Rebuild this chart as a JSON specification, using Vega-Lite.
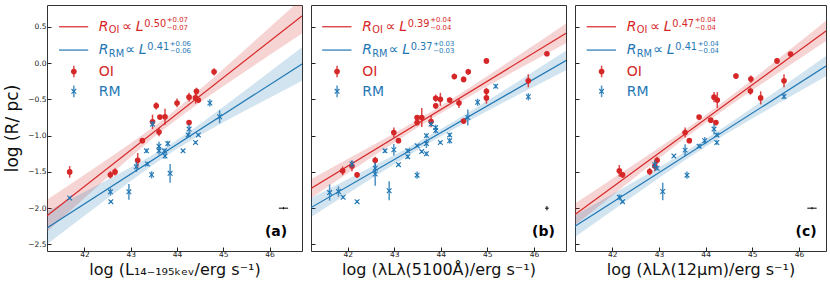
{
"$schema": "https://vega.github.io/schema/vega-lite/v6.json",
"background": "white",
"padding": {"left": 3, "top": 4, "right": 0, "bottom": 0},
"spacing": 7,
"config": {"font": "DejaVu Sans", "view": {"stroke": "#333", "strokeWidth": 1},
  "axis": {"domain": false, "grid": false, "tickColor": "#222", "labelColor": "#222", "labelFont": "DejaVu Sans", "titleFont": "DejaVu Sans", "titleFontWeight": "normal", "titleColor": "#111", "labelFontSize": 7.5, "tickSize": -4}},
"datasets": {
 "pts": [
  {"panel":"a","series":"OI","x":41.68,"y":-1.50,"err":0.08},{"panel":"a","series":"OI","x":42.56,"y":-1.54,"err":0.05},{"panel":"a","series":"OI","x":42.66,"y":-1.50,"err":0.05},{"panel":"a","series":"OI","x":43.15,"y":-1.34,"err":0.10},{"panel":"a","series":"OI","x":43.25,"y":-1.07,"err":0.03},{"panel":"a","series":"OI","x":43.47,"y":-0.81,"err":0.10},{"panel":"a","series":"OI","x":43.55,"y":-0.59,"err":0.05},{"panel":"a","series":"OI","x":43.61,"y":-0.95,"err":0.06},{"panel":"a","series":"OI","x":43.63,"y":-0.745,"err":0.03},{"panel":"a","series":"OI","x":43.74,"y":-0.74,"err":0.11},{"panel":"a","series":"OI","x":44.00,"y":-0.55,"err":0.06},{"panel":"a","series":"OI","x":44.26,"y":-0.47,"err":0.06},{"panel":"a","series":"OI","x":44.26,"y":-0.82,"err":0.03},{"panel":"a","series":"OI","x":44.42,"y":-0.39,"err":0.05},{"panel":"a","series":"OI","x":44.40,"y":-0.48,"err":0.08},{"panel":"a","series":"OI","x":44.46,"y":-0.51,"err":0.03},{"panel":"a","series":"OI","x":44.80,"y":-0.12,"err":0.05},
  {"panel":"a","series":"RM","x":41.68,"y":-1.86,"err":0.02},{"panel":"a","series":"RM","x":42.56,"y":-1.775,"err":0.05},{"panel":"a","series":"RM","x":42.57,"y":-1.91,"err":0.02},{"panel":"a","series":"RM","x":42.96,"y":-1.775,"err":0.11},{"panel":"a","series":"RM","x":43.12,"y":-1.43,"err":0.07},{"panel":"a","series":"RM","x":43.34,"y":-1.21,"err":0.03},{"panel":"a","series":"RM","x":43.36,"y":-1.39,"err":0.03},{"panel":"a","series":"RM","x":43.45,"y":-1.54,"err":0.05},{"panel":"a","series":"RM","x":43.47,"y":-0.84,"err":0.04},{"panel":"a","series":"RM","x":43.61,"y":-1.145,"err":0.06},{"panel":"a","series":"RM","x":43.61,"y":-1.21,"err":0.05},{"panel":"a","series":"RM","x":43.73,"y":-1.21,"err":0.03},{"panel":"a","series":"RM","x":43.74,"y":-1.28,"err":0.04},{"panel":"a","series":"RM","x":43.80,"y":-1.11,"err":0.04},{"panel":"a","series":"RM","x":43.85,"y":-1.52,"err":0.13},{"panel":"a","series":"RM","x":44.13,"y":-1.21,"err":0.02},{"panel":"a","series":"RM","x":44.26,"y":-0.91,"err":0.07},{"panel":"a","series":"RM","x":44.24,"y":-0.99,"err":0.03},{"panel":"a","series":"RM","x":44.40,"y":-1.095,"err":0.02},{"panel":"a","series":"RM","x":44.46,"y":-0.99,"err":0.02},{"panel":"a","series":"RM","x":44.71,"y":-0.55,"err":0.05},{"panel":"a","series":"RM","x":44.92,"y":-0.74,"err":0.09},
  {"panel":"b","series":"OI","x":41.89,"y":-1.485,"err":0.06},{"panel":"b","series":"OI","x":42.09,"y":-1.42,"err":0.07},{"panel":"b","series":"OI","x":42.20,"y":-1.54,"err":0.04},{"panel":"b","series":"OI","x":42.59,"y":-1.34,"err":0.05},{"panel":"b","series":"OI","x":42.99,"y":-0.957,"err":0.07},{"panel":"b","series":"OI","x":43.09,"y":-1.07,"err":0.03},{"panel":"b","series":"OI","x":43.49,"y":-0.82,"err":0.04},{"panel":"b","series":"OI","x":43.49,"y":-0.75,"err":0.03},{"panel":"b","series":"OI","x":43.59,"y":-0.75,"err":0.13},{"panel":"b","series":"OI","x":43.79,"y":-0.805,"err":0.08},{"panel":"b","series":"OI","x":43.89,"y":-0.485,"err":0.05},{"panel":"b","series":"OI","x":43.89,"y":-0.59,"err":0.04},{"panel":"b","series":"OI","x":43.99,"y":-0.50,"err":0.09},{"panel":"b","series":"OI","x":44.19,"y":-0.51,"err":0.03},{"panel":"b","series":"OI","x":44.29,"y":-0.185,"err":0.04},{"panel":"b","series":"OI","x":44.39,"y":-0.55,"err":0.07},{"panel":"b","series":"OI","x":44.49,"y":-0.225,"err":0.04},{"panel":"b","series":"OI","x":44.49,"y":-0.80,"err":0.03},{"panel":"b","series":"OI","x":44.59,"y":-0.12,"err":0.04},{"panel":"b","series":"OI","x":44.98,"y":0.03,"err":0.04},{"panel":"b","series":"OI","x":44.98,"y":-0.39,"err":0.05},{"panel":"b","series":"OI","x":44.98,"y":-0.48,"err":0.08},{"panel":"b","series":"OI","x":45.88,"y":-0.245,"err":0.09},{"panel":"b","series":"OI","x":46.28,"y":0.128,"err":0.03},
  {"panel":"b","series":"RM","x":41.61,"y":-1.785,"err":0.11},{"panel":"b","series":"RM","x":41.80,"y":-1.77,"err":0.07},{"panel":"b","series":"RM","x":41.90,"y":-1.85,"err":0.02},{"panel":"b","series":"RM","x":42.09,"y":-1.39,"err":0.05},{"panel":"b","series":"RM","x":42.20,"y":-1.91,"err":0.02},{"panel":"b","series":"RM","x":42.59,"y":-1.45,"err":0.06},{"panel":"b","series":"RM","x":42.59,"y":-1.53,"err":0.16},{"panel":"b","series":"RM","x":42.80,"y":-1.21,"err":0.03},{"panel":"b","series":"RM","x":42.89,"y":-1.76,"err":0.13},{"panel":"b","series":"RM","x":42.99,"y":-1.195,"err":0.08},{"panel":"b","series":"RM","x":43.09,"y":-1.40,"err":0.02},{"panel":"b","series":"RM","x":43.29,"y":-1.21,"err":0.03},{"panel":"b","series":"RM","x":43.29,"y":-1.29,"err":0.03},{"panel":"b","series":"RM","x":43.49,"y":-1.14,"err":0.02},{"panel":"b","series":"RM","x":43.49,"y":-1.545,"err":0.05},{"panel":"b","series":"RM","x":43.59,"y":-1.22,"err":0.02},{"panel":"b","series":"RM","x":43.69,"y":-1.0,"err":0.03},{"panel":"b","series":"RM","x":43.69,"y":-1.11,"err":0.06},{"panel":"b","series":"RM","x":43.69,"y":-1.25,"err":0.03},{"panel":"b","series":"RM","x":43.79,"y":-0.84,"err":0.03},{"panel":"b","series":"RM","x":43.89,"y":-0.89,"err":0.04},{"panel":"b","series":"RM","x":43.89,"y":-0.93,"err":0.04},{"panel":"b","series":"RM","x":43.99,"y":-1.095,"err":0.02},{"panel":"b","series":"RM","x":44.19,"y":-0.99,"err":0.03},{"panel":"b","series":"RM","x":44.19,"y":-1.07,"err":0.04},{"panel":"b","series":"RM","x":44.58,"y":-0.75,"err":0.11},{"panel":"b","series":"RM","x":44.79,"y":-0.54,"err":0.05},{"panel":"b","series":"RM","x":45.18,"y":-0.32,"err":0.03},{"panel":"b","series":"RM","x":45.88,"y":-0.465,"err":0.05},
  {"panel":"c","series":"OI","x":42.15,"y":-1.485,"err":0.08},{"panel":"c","series":"OI","x":42.22,"y":-1.54,"err":0.04},{"panel":"c","series":"OI","x":42.80,"y":-1.495,"err":0.05},{"panel":"c","series":"OI","x":42.91,"y":-1.42,"err":0.07},{"panel":"c","series":"OI","x":42.96,"y":-1.34,"err":0.05},{"panel":"c","series":"OI","x":43.56,"y":-0.957,"err":0.07},{"panel":"c","series":"OI","x":43.65,"y":-1.07,"err":0.03},{"panel":"c","series":"OI","x":43.86,"y":-0.745,"err":0.03},{"panel":"c","series":"OI","x":44.11,"y":-0.787,"err":0.03},{"panel":"c","series":"OI","x":44.18,"y":-0.47,"err":0.07},{"panel":"c","series":"OI","x":44.25,"y":-0.51,"err":0.11},{"panel":"c","series":"OI","x":44.22,"y":-0.82,"err":0.03},{"panel":"c","series":"OI","x":44.65,"y":-0.18,"err":0.04},{"panel":"c","series":"OI","x":44.97,"y":-0.22,"err":0.05},{"panel":"c","series":"OI","x":44.96,"y":-0.386,"err":0.05},{"panel":"c","series":"OI","x":45.18,"y":-0.48,"err":0.09},{"panel":"c","series":"OI","x":45.53,"y":0.03,"err":0.04},{"panel":"c","series":"OI","x":45.68,"y":-0.245,"err":0.09},{"panel":"c","series":"OI","x":45.82,"y":0.124,"err":0.03},
  {"panel":"c","series":"RM","x":42.15,"y":-1.85,"err":0.04},{"panel":"c","series":"RM","x":42.22,"y":-1.91,"err":0.02},{"panel":"c","series":"RM","x":42.91,"y":-1.40,"err":0.06},{"panel":"c","series":"RM","x":42.96,"y":-1.45,"err":0.03},{"panel":"c","series":"RM","x":43.08,"y":-1.77,"err":0.12},{"panel":"c","series":"RM","x":43.32,"y":-1.28,"err":0.02},{"panel":"c","series":"RM","x":43.56,"y":-1.20,"err":0.08},{"panel":"c","series":"RM","x":43.60,"y":-1.545,"err":0.05},{"panel":"c","series":"RM","x":43.86,"y":-1.145,"err":0.03},{"panel":"c","series":"RM","x":43.98,"y":-1.07,"err":0.05},{"panel":"c","series":"RM","x":44.18,"y":-0.91,"err":0.07},{"panel":"c","series":"RM","x":44.24,"y":-0.99,"err":0.03},{"panel":"c","series":"RM","x":44.24,"y":-1.095,"err":0.03},{"panel":"c","series":"RM","x":45.68,"y":-0.46,"err":0.04}
 ],
 "fit": [
  {"panel":"a","series":"OI","x":41.19,"y":-2.105},{"panel":"a","series":"OI","x":46.7,"y":0.65},
  {"panel":"a","series":"RM","x":41.19,"y":-2.272},{"panel":"a","series":"RM","x":46.7,"y":-0.013},
  {"panel":"b","series":"OI","x":41.21,"y":-1.728},{"panel":"b","series":"OI","x":46.69,"y":0.409},
  {"panel":"b","series":"RM","x":41.21,"y":-1.992},{"panel":"b","series":"RM","x":46.69,"y":0.035},
  {"panel":"c","series":"OI","x":41.2,"y":-2.086},{"panel":"c","series":"OI","x":46.58,"y":0.443},
  {"panel":"c","series":"RM","x":41.2,"y":-2.248},{"panel":"c","series":"RM","x":46.58,"y":-0.042}
 ],
 "band": [
  {"panel":"a","series":"OI","x":41.19,"y":-2.325,"y2":-1.885},{"panel":"a","series":"OI","x":41.8,"y":-1.975,"y2":-1.625},{"panel":"a","series":"OI","x":42.4,"y":-1.632,"y2":-1.368},{"panel":"a","series":"OI","x":43.0,"y":-1.295,"y2":-1.105},{"panel":"a","series":"OI","x":43.5,"y":-1.024,"y2":-0.876},{"panel":"a","series":"OI","x":43.8,"y":-0.87,"y2":-0.73},{"panel":"a","series":"OI","x":44.2,"y":-0.677,"y2":-0.523},{"panel":"a","series":"OI","x":44.8,"y":-0.406,"y2":-0.194},{"panel":"a","series":"OI","x":45.4,"y":-0.146,"y2":0.146},{"panel":"a","series":"OI","x":46.0,"y":0.111,"y2":0.489},{"panel":"a","series":"OI","x":46.7,"y":0.408,"y2":0.892},
  {"panel":"a","series":"RM","x":41.19,"y":-2.497,"y2":-2.047},{"panel":"a","series":"RM","x":41.8,"y":-2.2,"y2":-1.844},{"panel":"a","series":"RM","x":42.4,"y":-1.91,"y2":-1.642},{"panel":"a","series":"RM","x":43.0,"y":-1.624,"y2":-1.436},{"panel":"a","series":"RM","x":43.5,"y":-1.393,"y2":-1.257},{"panel":"a","series":"RM","x":43.9,"y":-1.221,"y2":-1.101},{"panel":"a","series":"RM","x":44.4,"y":-1.028,"y2":-0.884},{"panel":"a","series":"RM","x":45.0,"y":-0.817,"y2":-0.603},{"panel":"a","series":"RM","x":45.6,"y":-0.613,"y2":-0.315},{"panel":"a","series":"RM","x":46.2,"y":-0.412,"y2":-0.024},{"panel":"a","series":"RM","x":46.7,"y":-0.245,"y2":0.219},
  {"panel":"b","series":"OI","x":41.21,"y":-1.862,"y2":-1.6},{"panel":"b","series":"OI","x":41.8,"y":-1.605,"y2":-1.391},{"panel":"b","series":"OI","x":42.4,"y":-1.348,"y2":-1.18},{"panel":"b","series":"OI","x":43.0,"y":-1.094,"y2":-0.966},{"panel":"b","series":"OI","x":43.5,"y":-0.888,"y2":-0.782},{"panel":"b","series":"OI","x":43.9,"y":-0.729,"y2":-0.629},{"panel":"b","series":"OI","x":44.4,"y":-0.539,"y2":-0.429},{"panel":"b","series":"OI","x":45.0,"y":-0.32,"y2":-0.18},{"panel":"b","series":"OI","x":45.6,"y":-0.107,"y2":0.075},{"panel":"b","series":"OI","x":46.2,"y":0.103,"y2":0.333},{"panel":"b","series":"OI","x":46.69,"y":0.274,"y2":0.544},
  {"panel":"b","series":"RM","x":41.21,"y":-2.123,"y2":-1.861},{"panel":"b","series":"RM","x":41.8,"y":-1.881,"y2":-1.667},{"panel":"b","series":"RM","x":42.4,"y":-1.636,"y2":-1.468},{"panel":"b","series":"RM","x":43.0,"y":-1.394,"y2":-1.266},{"panel":"b","series":"RM","x":43.5,"y":-1.198,"y2":-1.092},{"panel":"b","series":"RM","x":43.9,"y":-1.047,"y2":-0.947},{"panel":"b","series":"RM","x":44.4,"y":-0.867,"y2":-0.757},{"panel":"b","series":"RM","x":45.0,"y":-0.66,"y2":-0.52},{"panel":"b","series":"RM","x":45.6,"y":-0.459,"y2":-0.277},{"panel":"b","series":"RM","x":46.2,"y":-0.261,"y2":-0.031},{"panel":"b","series":"RM","x":46.69,"y":-0.1,"y2":0.17},
  {"panel":"c","series":"OI","x":41.2,"y":-2.236,"y2":-1.936},{"panel":"c","series":"OI","x":41.8,"y":-1.927,"y2":-1.681},{"panel":"c","series":"OI","x":42.4,"y":-1.619,"y2":-1.425},{"panel":"c","series":"OI","x":43.0,"y":-1.314,"y2":-1.166},{"panel":"c","series":"OI","x":43.5,"y":-1.065,"y2":-0.945},{"panel":"c","series":"OI","x":44.0,"y":-0.825,"y2":-0.715},{"panel":"c","series":"OI","x":44.5,"y":-0.595,"y2":-0.475},{"panel":"c","series":"OI","x":45.0,"y":-0.374,"y2":-0.226},{"panel":"c","series":"OI","x":45.6,"y":-0.115,"y2":0.079},{"panel":"c","series":"OI","x":46.1,"y":0.098,"y2":0.336},{"panel":"c","series":"OI","x":46.58,"y":0.303,"y2":0.583},
  {"panel":"c","series":"RM","x":41.2,"y":-2.398,"y2":-2.098},{"panel":"c","series":"RM","x":41.8,"y":-2.125,"y2":-1.879},{"panel":"c","series":"RM","x":42.4,"y":-1.853,"y2":-1.659},{"panel":"c","series":"RM","x":43.0,"y":-1.584,"y2":-1.436},{"panel":"c","series":"RM","x":43.5,"y":-1.365,"y2":-1.245},{"panel":"c","series":"RM","x":44.0,"y":-1.155,"y2":-1.045},{"panel":"c","series":"RM","x":44.5,"y":-0.955,"y2":-0.835},{"panel":"c","series":"RM","x":45.0,"y":-0.764,"y2":-0.616},{"panel":"c","series":"RM","x":45.6,"y":-0.541,"y2":-0.347},{"panel":"c","series":"RM","x":46.1,"y":-0.358,"y2":-0.12},{"panel":"c","series":"RM","x":46.58,"y":-0.182,"y2":0.098}
 ],
 "sys": [
  {"panel":"a","x":46.30,"y":-2.0,"xe":0.1,"ye":0.015},
  {"panel":"b","x":46.28,"y":-2.0,"xe":0.04,"ye":0.03},
  {"panel":"c","x":46.28,"y":-2.0,"xe":0.1,"ye":0.015}
 ],
 "legend": [
  {"panel":"a","e1":"0.50","p1":"+0.07","m1":"−0.07","e2":"0.41","p2":"+0.06","m2":"−0.06","tag":"(a)"},
  {"panel":"b","e1":"0.39","p1":"+0.04","m1":"−0.04","e2":"0.37","p2":"+0.03","m2":"−0.03","tag":"(b)"},
  {"panel":"c","e1":"0.47","p1":"+0.04","m1":"−0.04","e2":"0.41","p2":"+0.04","m2":"−0.04","tag":"(c)"}
 ]
},
"hconcat": [
 {
  "width": 255, "height": 246,
  "layer": [
   {
    "encoding": {
     "x": {"field": "x", "type": "quantitative", "scale": {"domain": [41.19, 46.7], "nice": false, "zero": false}, "axis": {"values": [42,43,44,45,46], "format": "d", "title": "log  (L₁₄₋₁₉₅ₖₑᵥ/erg s⁻¹)", "titleFontSize": 16, "labelPadding": 3, "titlePadding": 4}},
     "y": {"field": "y", "type": "quantitative", "scale": {"domain": [-2.59, 0.8], "nice": false, "zero": false}, "axis": {"values": [-2.5,-2,-1.5,-1,-0.5,0,0.5], "format": ".1f", "title": "log (R/ pc)", "titleFontSize": 17, "labelPadding": 5, "titlePadding": 6}}
    },
    "layer": [
     {"data": {"name": "band"}, "transform": [{"filter": "datum.panel === 'a' && datum.series === 'OI'"}], "mark": {"type": "area", "color": "#d62728", "opacity": 0.2, "clip": true}, "encoding": {"y2": {"field": "y2"}}},
     {"data": {"name": "band"}, "transform": [{"filter": "datum.panel === 'a' && datum.series === 'RM'"}], "mark": {"type": "area", "color": "#1f77b4", "opacity": 0.2, "clip": true}, "encoding": {"y2": {"field": "y2"}}},
     {"data": {"name": "fit"}, "transform": [{"filter": "datum.panel === 'a' && datum.series === 'OI'"}], "mark": {"type": "line", "color": "#d62728", "strokeWidth": 1.2, "clip": true}},
     {"data": {"name": "fit"}, "transform": [{"filter": "datum.panel === 'a' && datum.series === 'RM'"}], "mark": {"type": "line", "color": "#1f77b4", "strokeWidth": 1.2, "clip": true}},
     {"data": {"name": "pts"}, "transform": [{"filter": "datum.panel === 'a' && datum.series === 'OI'"}], "mark": {"type": "errorbar", "color": "#d62728", "thickness": 1.5, "opacity": 0.85}, "encoding": {"yError": {"field": "err"}}},
     {"data": {"name": "pts"}, "transform": [{"filter": "datum.panel === 'a' && datum.series === 'OI'"}], "mark": {"type": "point", "shape": "circle", "filled": true, "size": 32, "color": "#d62728", "opacity": 1}},
     {"data": {"name": "pts"}, "transform": [{"filter": "datum.panel === 'a' && datum.series === 'RM'"}], "mark": {"type": "errorbar", "color": "#1f77b4", "thickness": 1.5, "opacity": 0.8}, "encoding": {"yError": {"field": "err"}}},
     {"data": {"name": "pts"}, "transform": [{"filter": "datum.panel === 'a' && datum.series === 'RM'"}], "mark": {"type": "point", "shape": "M-1,-1L1,1M-1,1L1,-1", "filled": false, "size": 22, "strokeWidth": 1.1, "color": "#1f77b4", "opacity": 1}},
     {"data": {"name": "sys"}, "transform": [{"filter": "datum.panel === 'a'"}], "mark": {"type": "errorbar", "color": "#000", "thickness": 1}, "encoding": {"xError": {"field": "xe"}}},
     {"data": {"name": "sys"}, "transform": [{"filter": "datum.panel === 'a'"}], "mark": {"type": "errorbar", "color": "#000", "thickness": 1}, "encoding": {"yError": {"field": "ye"}}}
    ]
   },
   {"data": {"name": "legend"}, "transform": [{"filter": "datum.panel === 'a'"}],
    "layer": [
     {"mark": {"type": "rule", "color": "#d62728", "strokeWidth": 1.2}, "encoding": {"x": {"datum": 41.45}, "x2": {"datum": 42.08}, "y": {"datum": 0.5}}},
     {"mark": {"type": "rule", "color": "#1f77b4", "strokeWidth": 1.2}, "encoding": {"x": {"datum": 41.45}, "x2": {"datum": 42.08}, "y": {"datum": 0.179}}},
     {"mark": {"type": "rule", "color": "#d62728", "strokeWidth": 1.5, "opacity": 0.85}, "encoding": {"x": {"datum": 41.77}, "y": {"datum": -0.196}, "y2": {"datum": -0.036}}},
     {"mark": {"type": "point", "shape": "circle", "filled": true, "size": 32, "color": "#d62728", "opacity": 1}, "encoding": {"x": {"datum": 41.77}, "y": {"datum": -0.116}}},
     {"mark": {"type": "rule", "color": "#1f77b4", "strokeWidth": 1.5, "opacity": 0.8}, "encoding": {"x": {"datum": 41.77}, "y": {"datum": -0.47}, "y2": {"datum": -0.31}}},
     {"mark": {"type": "point", "shape": "M-1,-1L1,1M-1,1L1,-1", "filled": false, "size": 22, "strokeWidth": 1.1, "color": "#1f77b4", "opacity": 1}, "encoding": {"x": {"datum": 41.77}, "y": {"datum": -0.39}}},
     {"mark": {"type": "text", "align": "left", "baseline": "alphabetic", "fontSize": 14, "fontStyle": "italic", "color": "#d62728", "dy": 4}, "encoding": {"x": {"datum": 42.31}, "y": {"datum": 0.5}, "text": {"value": "R"}}},
     {"mark": {"type": "text", "align": "left", "baseline": "alphabetic", "fontSize": 9.8, "color": "#d62728", "dx": 10, "dy": 6.7}, "encoding": {"x": {"datum": 42.31}, "y": {"datum": 0.5}, "text": {"value": "OI"}}},
     {"mark": {"type": "text", "align": "left", "baseline": "alphabetic", "fontSize": 14, "color": "#d62728", "dx": 23.5, "dy": 4}, "encoding": {"x": {"datum": 42.31}, "y": {"datum": 0.5}, "text": {"value": "∝"}}},
     {"mark": {"type": "text", "align": "left", "baseline": "alphabetic", "fontSize": 14, "fontStyle": "italic", "color": "#d62728", "dx": 37, "dy": 4}, "encoding": {"x": {"datum": 42.31}, "y": {"datum": 0.5}, "text": {"value": "L"}}},
     {"mark": {"type": "text", "align": "left", "baseline": "alphabetic", "fontSize": 9.8, "color": "#d62728", "dx": 45.5, "dy": 0}, "encoding": {"x": {"datum": 42.31}, "y": {"datum": 0.5}, "text": {"field": "e1"}}},
     {"mark": {"type": "text", "align": "left", "baseline": "alphabetic", "fontSize": 6.9, "color": "#d62728", "dx": 68, "dy": -4.3}, "encoding": {"x": {"datum": 42.31}, "y": {"datum": 0.5}, "text": {"field": "p1"}}},
     {"mark": {"type": "text", "align": "left", "baseline": "alphabetic", "fontSize": 6.9, "color": "#d62728", "dx": 68, "dy": 3.3}, "encoding": {"x": {"datum": 42.31}, "y": {"datum": 0.5}, "text": {"field": "m1"}}},
     {"mark": {"type": "text", "align": "left", "baseline": "alphabetic", "fontSize": 14, "fontStyle": "italic", "color": "#1f77b4", "dy": 4}, "encoding": {"x": {"datum": 42.31}, "y": {"datum": 0.179}, "text": {"value": "R"}}},
     {"mark": {"type": "text", "align": "left", "baseline": "alphabetic", "fontSize": 9.8, "color": "#1f77b4", "dx": 10, "dy": 6.7}, "encoding": {"x": {"datum": 42.31}, "y": {"datum": 0.179}, "text": {"value": "RM"}}},
     {"mark": {"type": "text", "align": "left", "baseline": "alphabetic", "fontSize": 14, "color": "#1f77b4", "dx": 26.5, "dy": 4}, "encoding": {"x": {"datum": 42.31}, "y": {"datum": 0.179}, "text": {"value": "∝"}}},
     {"mark": {"type": "text", "align": "left", "baseline": "alphabetic", "fontSize": 14, "fontStyle": "italic", "color": "#1f77b4", "dx": 40, "dy": 4}, "encoding": {"x": {"datum": 42.31}, "y": {"datum": 0.179}, "text": {"value": "L"}}},
     {"mark": {"type": "text", "align": "left", "baseline": "alphabetic", "fontSize": 9.8, "color": "#1f77b4", "dx": 48.5, "dy": 0}, "encoding": {"x": {"datum": 42.31}, "y": {"datum": 0.179}, "text": {"field": "e2"}}},
     {"mark": {"type": "text", "align": "left", "baseline": "alphabetic", "fontSize": 6.9, "color": "#1f77b4", "dx": 71, "dy": -4.3}, "encoding": {"x": {"datum": 42.31}, "y": {"datum": 0.179}, "text": {"field": "p2"}}},
     {"mark": {"type": "text", "align": "left", "baseline": "alphabetic", "fontSize": 6.9, "color": "#1f77b4", "dx": 71, "dy": 3.3}, "encoding": {"x": {"datum": 42.31}, "y": {"datum": 0.179}, "text": {"field": "m2"}}},
     {"mark": {"type": "text", "align": "left", "baseline": "alphabetic", "fontSize": 14, "color": "#d62728", "dy": 5}, "encoding": {"x": {"datum": 42.31}, "y": {"datum": -0.116}, "text": {"value": "OI"}}},
     {"mark": {"type": "text", "align": "left", "baseline": "alphabetic", "fontSize": 14, "color": "#1f77b4", "dy": 5}, "encoding": {"x": {"datum": 42.31}, "y": {"datum": -0.39}, "text": {"value": "RM"}}},
     {"mark": {"type": "text", "align": "right", "baseline": "alphabetic", "fontSize": 14, "fontWeight": "bold", "color": "#000"}, "encoding": {"x": {"datum": 46.38}, "y": {"datum": -2.38}, "text": {"field": "tag"}}}
    ]}
  ]
 },
 {
  "width": 255, "height": 246,
  "layer": [
   {
    "encoding": {
     "x": {"field": "x", "type": "quantitative", "scale": {"domain": [41.21, 46.69], "nice": false, "zero": false}, "axis": {"values": [42,43,44,45,46], "format": "d", "title": "log  (λLλ(5100Å)/erg s⁻¹)", "titleFontSize": 16, "labelPadding": 3, "titlePadding": 4}},
     "y": {"field": "y", "type": "quantitative", "scale": {"domain": [-2.59, 0.8], "nice": false, "zero": false}, "axis": {"values": [-2.5,-2,-1.5,-1,-0.5,0,0.5], "labels": false, "title": null}}
    },
    "layer": [
     {"data": {"name": "band"}, "transform": [{"filter": "datum.panel === 'b' && datum.series === 'OI'"}], "mark": {"type": "area", "color": "#d62728", "opacity": 0.2, "clip": true}, "encoding": {"y2": {"field": "y2"}}},
     {"data": {"name": "band"}, "transform": [{"filter": "datum.panel === 'b' && datum.series === 'RM'"}], "mark": {"type": "area", "color": "#1f77b4", "opacity": 0.2, "clip": true}, "encoding": {"y2": {"field": "y2"}}},
     {"data": {"name": "fit"}, "transform": [{"filter": "datum.panel === 'b' && datum.series === 'OI'"}], "mark": {"type": "line", "color": "#d62728", "strokeWidth": 1.2, "clip": true}},
     {"data": {"name": "fit"}, "transform": [{"filter": "datum.panel === 'b' && datum.series === 'RM'"}], "mark": {"type": "line", "color": "#1f77b4", "strokeWidth": 1.2, "clip": true}},
     {"data": {"name": "pts"}, "transform": [{"filter": "datum.panel === 'b' && datum.series === 'OI'"}], "mark": {"type": "errorbar", "color": "#d62728", "thickness": 1.5, "opacity": 0.85}, "encoding": {"yError": {"field": "err"}}},
     {"data": {"name": "pts"}, "transform": [{"filter": "datum.panel === 'b' && datum.series === 'OI'"}], "mark": {"type": "point", "shape": "circle", "filled": true, "size": 32, "color": "#d62728", "opacity": 1}},
     {"data": {"name": "pts"}, "transform": [{"filter": "datum.panel === 'b' && datum.series === 'RM'"}], "mark": {"type": "errorbar", "color": "#1f77b4", "thickness": 1.5, "opacity": 0.8}, "encoding": {"yError": {"field": "err"}}},
     {"data": {"name": "pts"}, "transform": [{"filter": "datum.panel === 'b' && datum.series === 'RM'"}], "mark": {"type": "point", "shape": "M-1,-1L1,1M-1,1L1,-1", "filled": false, "size": 22, "strokeWidth": 1.1, "color": "#1f77b4", "opacity": 1}},
     {"data": {"name": "sys"}, "transform": [{"filter": "datum.panel === 'b'"}], "mark": {"type": "errorbar", "color": "#000", "thickness": 1}, "encoding": {"xError": {"field": "xe"}}},
     {"data": {"name": "sys"}, "transform": [{"filter": "datum.panel === 'b'"}], "mark": {"type": "errorbar", "color": "#000", "thickness": 1}, "encoding": {"yError": {"field": "ye"}}}
    ]
   },
   {"data": {"name": "legend"}, "transform": [{"filter": "datum.panel === 'b'"}],
    "layer": [
     {"mark": {"type": "rule", "color": "#d62728", "strokeWidth": 1.2}, "encoding": {"x": {"datum": 41.45}, "x2": {"datum": 42.08}, "y": {"datum": 0.5}}},
     {"mark": {"type": "rule", "color": "#1f77b4", "strokeWidth": 1.2}, "encoding": {"x": {"datum": 41.45}, "x2": {"datum": 42.08}, "y": {"datum": 0.179}}},
     {"mark": {"type": "rule", "color": "#d62728", "strokeWidth": 1.5, "opacity": 0.85}, "encoding": {"x": {"datum": 41.77}, "y": {"datum": -0.196}, "y2": {"datum": -0.036}}},
     {"mark": {"type": "point", "shape": "circle", "filled": true, "size": 32, "color": "#d62728", "opacity": 1}, "encoding": {"x": {"datum": 41.77}, "y": {"datum": -0.116}}},
     {"mark": {"type": "rule", "color": "#1f77b4", "strokeWidth": 1.5, "opacity": 0.8}, "encoding": {"x": {"datum": 41.77}, "y": {"datum": -0.47}, "y2": {"datum": -0.31}}},
     {"mark": {"type": "point", "shape": "M-1,-1L1,1M-1,1L1,-1", "filled": false, "size": 22, "strokeWidth": 1.1, "color": "#1f77b4", "opacity": 1}, "encoding": {"x": {"datum": 41.77}, "y": {"datum": -0.39}}},
     {"mark": {"type": "text", "align": "left", "baseline": "alphabetic", "fontSize": 14, "fontStyle": "italic", "color": "#d62728", "dy": 4}, "encoding": {"x": {"datum": 42.31}, "y": {"datum": 0.5}, "text": {"value": "R"}}},
     {"mark": {"type": "text", "align": "left", "baseline": "alphabetic", "fontSize": 9.8, "color": "#d62728", "dx": 10, "dy": 6.7}, "encoding": {"x": {"datum": 42.31}, "y": {"datum": 0.5}, "text": {"value": "OI"}}},
     {"mark": {"type": "text", "align": "left", "baseline": "alphabetic", "fontSize": 14, "color": "#d62728", "dx": 23.5, "dy": 4}, "encoding": {"x": {"datum": 42.31}, "y": {"datum": 0.5}, "text": {"value": "∝"}}},
     {"mark": {"type": "text", "align": "left", "baseline": "alphabetic", "fontSize": 14, "fontStyle": "italic", "color": "#d62728", "dx": 37, "dy": 4}, "encoding": {"x": {"datum": 42.31}, "y": {"datum": 0.5}, "text": {"value": "L"}}},
     {"mark": {"type": "text", "align": "left", "baseline": "alphabetic", "fontSize": 9.8, "color": "#d62728", "dx": 45.5, "dy": 0}, "encoding": {"x": {"datum": 42.31}, "y": {"datum": 0.5}, "text": {"field": "e1"}}},
     {"mark": {"type": "text", "align": "left", "baseline": "alphabetic", "fontSize": 6.9, "color": "#d62728", "dx": 68, "dy": -4.3}, "encoding": {"x": {"datum": 42.31}, "y": {"datum": 0.5}, "text": {"field": "p1"}}},
     {"mark": {"type": "text", "align": "left", "baseline": "alphabetic", "fontSize": 6.9, "color": "#d62728", "dx": 68, "dy": 3.3}, "encoding": {"x": {"datum": 42.31}, "y": {"datum": 0.5}, "text": {"field": "m1"}}},
     {"mark": {"type": "text", "align": "left", "baseline": "alphabetic", "fontSize": 14, "fontStyle": "italic", "color": "#1f77b4", "dy": 4}, "encoding": {"x": {"datum": 42.31}, "y": {"datum": 0.179}, "text": {"value": "R"}}},
     {"mark": {"type": "text", "align": "left", "baseline": "alphabetic", "fontSize": 9.8, "color": "#1f77b4", "dx": 10, "dy": 6.7}, "encoding": {"x": {"datum": 42.31}, "y": {"datum": 0.179}, "text": {"value": "RM"}}},
     {"mark": {"type": "text", "align": "left", "baseline": "alphabetic", "fontSize": 14, "color": "#1f77b4", "dx": 26.5, "dy": 4}, "encoding": {"x": {"datum": 42.31}, "y": {"datum": 0.179}, "text": {"value": "∝"}}},
     {"mark": {"type": "text", "align": "left", "baseline": "alphabetic", "fontSize": 14, "fontStyle": "italic", "color": "#1f77b4", "dx": 40, "dy": 4}, "encoding": {"x": {"datum": 42.31}, "y": {"datum": 0.179}, "text": {"value": "L"}}},
     {"mark": {"type": "text", "align": "left", "baseline": "alphabetic", "fontSize": 9.8, "color": "#1f77b4", "dx": 48.5, "dy": 0}, "encoding": {"x": {"datum": 42.31}, "y": {"datum": 0.179}, "text": {"field": "e2"}}},
     {"mark": {"type": "text", "align": "left", "baseline": "alphabetic", "fontSize": 6.9, "color": "#1f77b4", "dx": 71, "dy": -4.3}, "encoding": {"x": {"datum": 42.31}, "y": {"datum": 0.179}, "text": {"field": "p2"}}},
     {"mark": {"type": "text", "align": "left", "baseline": "alphabetic", "fontSize": 6.9, "color": "#1f77b4", "dx": 71, "dy": 3.3}, "encoding": {"x": {"datum": 42.31}, "y": {"datum": 0.179}, "text": {"field": "m2"}}},
     {"mark": {"type": "text", "align": "left", "baseline": "alphabetic", "fontSize": 14, "color": "#d62728", "dy": 5}, "encoding": {"x": {"datum": 42.31}, "y": {"datum": -0.116}, "text": {"value": "OI"}}},
     {"mark": {"type": "text", "align": "left", "baseline": "alphabetic", "fontSize": 14, "color": "#1f77b4", "dy": 5}, "encoding": {"x": {"datum": 42.31}, "y": {"datum": -0.39}, "text": {"value": "RM"}}},
     {"mark": {"type": "text", "align": "right", "baseline": "alphabetic", "fontSize": 14, "fontWeight": "bold", "color": "#000"}, "encoding": {"x": {"datum": 46.45}, "y": {"datum": -2.38}, "text": {"field": "tag"}}}
    ]}
  ]
 },
 {
  "width": 251, "height": 246,
  "layer": [
   {
    "encoding": {
     "x": {"field": "x", "type": "quantitative", "scale": {"domain": [41.2, 46.58], "nice": false, "zero": false}, "axis": {"values": [42,43,44,45,46], "format": "d", "title": "log  (λLλ(12μm)/erg s⁻¹)", "titleFontSize": 16, "labelPadding": 3, "titlePadding": 4}},
     "y": {"field": "y", "type": "quantitative", "scale": {"domain": [-2.59, 0.8], "nice": false, "zero": false}, "axis": {"values": [-2.5,-2,-1.5,-1,-0.5,0,0.5], "labels": false, "title": null}}
    },
    "layer": [
     {"data": {"name": "band"}, "transform": [{"filter": "datum.panel === 'c' && datum.series === 'OI'"}], "mark": {"type": "area", "color": "#d62728", "opacity": 0.2, "clip": true}, "encoding": {"y2": {"field": "y2"}}},
     {"data": {"name": "band"}, "transform": [{"filter": "datum.panel === 'c' && datum.series === 'RM'"}], "mark": {"type": "area", "color": "#1f77b4", "opacity": 0.2, "clip": true}, "encoding": {"y2": {"field": "y2"}}},
     {"data": {"name": "fit"}, "transform": [{"filter": "datum.panel === 'c' && datum.series === 'OI'"}], "mark": {"type": "line", "color": "#d62728", "strokeWidth": 1.2, "clip": true}},
     {"data": {"name": "fit"}, "transform": [{"filter": "datum.panel === 'c' && datum.series === 'RM'"}], "mark": {"type": "line", "color": "#1f77b4", "strokeWidth": 1.2, "clip": true}},
     {"data": {"name": "pts"}, "transform": [{"filter": "datum.panel === 'c' && datum.series === 'OI'"}], "mark": {"type": "errorbar", "color": "#d62728", "thickness": 1.5, "opacity": 0.85}, "encoding": {"yError": {"field": "err"}}},
     {"data": {"name": "pts"}, "transform": [{"filter": "datum.panel === 'c' && datum.series === 'OI'"}], "mark": {"type": "point", "shape": "circle", "filled": true, "size": 32, "color": "#d62728", "opacity": 1}},
     {"data": {"name": "pts"}, "transform": [{"filter": "datum.panel === 'c' && datum.series === 'RM'"}], "mark": {"type": "errorbar", "color": "#1f77b4", "thickness": 1.5, "opacity": 0.8}, "encoding": {"yError": {"field": "err"}}},
     {"data": {"name": "pts"}, "transform": [{"filter": "datum.panel === 'c' && datum.series === 'RM'"}], "mark": {"type": "point", "shape": "M-1,-1L1,1M-1,1L1,-1", "filled": false, "size": 22, "strokeWidth": 1.1, "color": "#1f77b4", "opacity": 1}},
     {"data": {"name": "sys"}, "transform": [{"filter": "datum.panel === 'c'"}], "mark": {"type": "errorbar", "color": "#000", "thickness": 1}, "encoding": {"xError": {"field": "xe"}}},
     {"data": {"name": "sys"}, "transform": [{"filter": "datum.panel === 'c'"}], "mark": {"type": "errorbar", "color": "#000", "thickness": 1}, "encoding": {"yError": {"field": "ye"}}}
    ]
   },
   {"data": {"name": "legend"}, "transform": [{"filter": "datum.panel === 'c'"}],
    "layer": [
     {"mark": {"type": "rule", "color": "#d62728", "strokeWidth": 1.2}, "encoding": {"x": {"datum": 41.45}, "x2": {"datum": 42.08}, "y": {"datum": 0.5}}},
     {"mark": {"type": "rule", "color": "#1f77b4", "strokeWidth": 1.2}, "encoding": {"x": {"datum": 41.45}, "x2": {"datum": 42.08}, "y": {"datum": 0.179}}},
     {"mark": {"type": "rule", "color": "#d62728", "strokeWidth": 1.5, "opacity": 0.85}, "encoding": {"x": {"datum": 41.77}, "y": {"datum": -0.196}, "y2": {"datum": -0.036}}},
     {"mark": {"type": "point", "shape": "circle", "filled": true, "size": 32, "color": "#d62728", "opacity": 1}, "encoding": {"x": {"datum": 41.77}, "y": {"datum": -0.116}}},
     {"mark": {"type": "rule", "color": "#1f77b4", "strokeWidth": 1.5, "opacity": 0.8}, "encoding": {"x": {"datum": 41.77}, "y": {"datum": -0.47}, "y2": {"datum": -0.31}}},
     {"mark": {"type": "point", "shape": "M-1,-1L1,1M-1,1L1,-1", "filled": false, "size": 22, "strokeWidth": 1.1, "color": "#1f77b4", "opacity": 1}, "encoding": {"x": {"datum": 41.77}, "y": {"datum": -0.39}}},
     {"mark": {"type": "text", "align": "left", "baseline": "alphabetic", "fontSize": 14, "fontStyle": "italic", "color": "#d62728", "dy": 4}, "encoding": {"x": {"datum": 42.31}, "y": {"datum": 0.5}, "text": {"value": "R"}}},
     {"mark": {"type": "text", "align": "left", "baseline": "alphabetic", "fontSize": 9.8, "color": "#d62728", "dx": 10, "dy": 6.7}, "encoding": {"x": {"datum": 42.31}, "y": {"datum": 0.5}, "text": {"value": "OI"}}},
     {"mark": {"type": "text", "align": "left", "baseline": "alphabetic", "fontSize": 14, "color": "#d62728", "dx": 23.5, "dy": 4}, "encoding": {"x": {"datum": 42.31}, "y": {"datum": 0.5}, "text": {"value": "∝"}}},
     {"mark": {"type": "text", "align": "left", "baseline": "alphabetic", "fontSize": 14, "fontStyle": "italic", "color": "#d62728", "dx": 37, "dy": 4}, "encoding": {"x": {"datum": 42.31}, "y": {"datum": 0.5}, "text": {"value": "L"}}},
     {"mark": {"type": "text", "align": "left", "baseline": "alphabetic", "fontSize": 9.8, "color": "#d62728", "dx": 45.5, "dy": 0}, "encoding": {"x": {"datum": 42.31}, "y": {"datum": 0.5}, "text": {"field": "e1"}}},
     {"mark": {"type": "text", "align": "left", "baseline": "alphabetic", "fontSize": 6.9, "color": "#d62728", "dx": 68, "dy": -4.3}, "encoding": {"x": {"datum": 42.31}, "y": {"datum": 0.5}, "text": {"field": "p1"}}},
     {"mark": {"type": "text", "align": "left", "baseline": "alphabetic", "fontSize": 6.9, "color": "#d62728", "dx": 68, "dy": 3.3}, "encoding": {"x": {"datum": 42.31}, "y": {"datum": 0.5}, "text": {"field": "m1"}}},
     {"mark": {"type": "text", "align": "left", "baseline": "alphabetic", "fontSize": 14, "fontStyle": "italic", "color": "#1f77b4", "dy": 4}, "encoding": {"x": {"datum": 42.31}, "y": {"datum": 0.179}, "text": {"value": "R"}}},
     {"mark": {"type": "text", "align": "left", "baseline": "alphabetic", "fontSize": 9.8, "color": "#1f77b4", "dx": 10, "dy": 6.7}, "encoding": {"x": {"datum": 42.31}, "y": {"datum": 0.179}, "text": {"value": "RM"}}},
     {"mark": {"type": "text", "align": "left", "baseline": "alphabetic", "fontSize": 14, "color": "#1f77b4", "dx": 26.5, "dy": 4}, "encoding": {"x": {"datum": 42.31}, "y": {"datum": 0.179}, "text": {"value": "∝"}}},
     {"mark": {"type": "text", "align": "left", "baseline": "alphabetic", "fontSize": 14, "fontStyle": "italic", "color": "#1f77b4", "dx": 40, "dy": 4}, "encoding": {"x": {"datum": 42.31}, "y": {"datum": 0.179}, "text": {"value": "L"}}},
     {"mark": {"type": "text", "align": "left", "baseline": "alphabetic", "fontSize": 9.8, "color": "#1f77b4", "dx": 48.5, "dy": 0}, "encoding": {"x": {"datum": 42.31}, "y": {"datum": 0.179}, "text": {"field": "e2"}}},
     {"mark": {"type": "text", "align": "left", "baseline": "alphabetic", "fontSize": 6.9, "color": "#1f77b4", "dx": 71, "dy": -4.3}, "encoding": {"x": {"datum": 42.31}, "y": {"datum": 0.179}, "text": {"field": "p2"}}},
     {"mark": {"type": "text", "align": "left", "baseline": "alphabetic", "fontSize": 6.9, "color": "#1f77b4", "dx": 71, "dy": 3.3}, "encoding": {"x": {"datum": 42.31}, "y": {"datum": 0.179}, "text": {"field": "m2"}}},
     {"mark": {"type": "text", "align": "left", "baseline": "alphabetic", "fontSize": 14, "color": "#d62728", "dy": 5}, "encoding": {"x": {"datum": 42.31}, "y": {"datum": -0.116}, "text": {"value": "OI"}}},
     {"mark": {"type": "text", "align": "left", "baseline": "alphabetic", "fontSize": 14, "color": "#1f77b4", "dy": 5}, "encoding": {"x": {"datum": 42.31}, "y": {"datum": -0.39}, "text": {"value": "RM"}}},
     {"mark": {"type": "text", "align": "right", "baseline": "alphabetic", "fontSize": 14, "fontWeight": "bold", "color": "#000"}, "encoding": {"x": {"datum": 46.38}, "y": {"datum": -2.38}, "text": {"field": "tag"}}}
    ]}
  ]
 }
]
}
